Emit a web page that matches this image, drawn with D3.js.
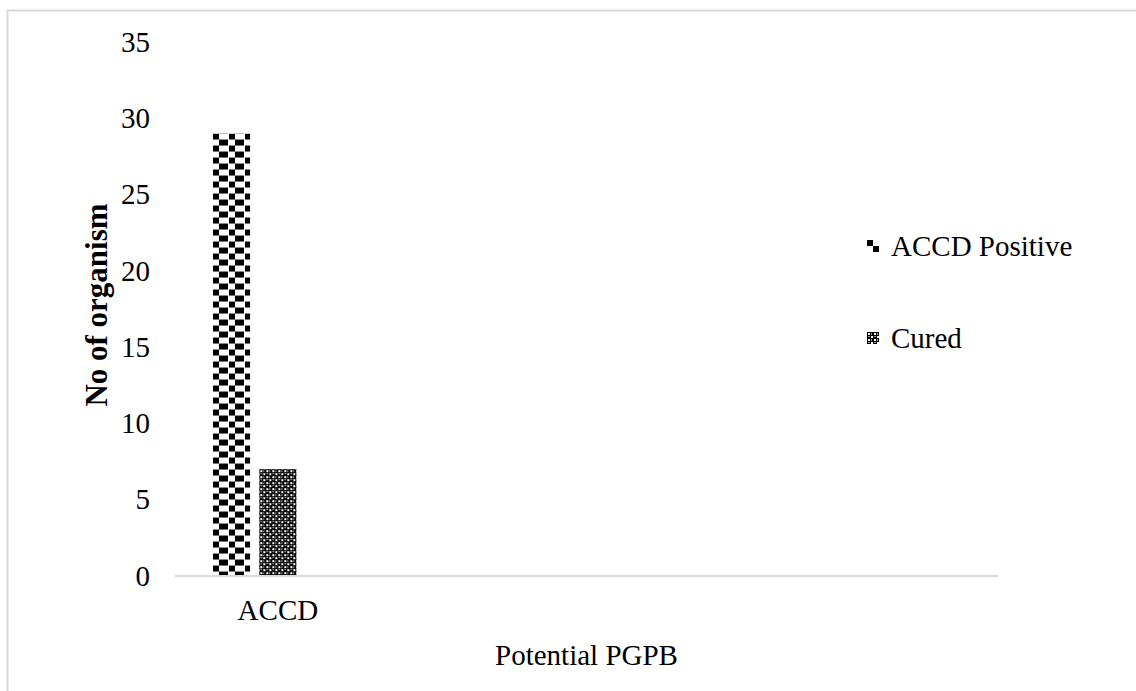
<!DOCTYPE html>
<html>
<head>
<meta charset="utf-8">
<script src="https://cdn.jsdelivr.net/npm/d3@7"></script>
<style>
  html, body { margin: 0; padding: 0; background: #fff; }
  svg { display: block; }
  text { font-family: "Liberation Serif", "Times New Roman", serif; fill: #000; }
</style>
</head>
<body>
<svg id="chart" width="1136" height="691"></svg>
<script>
// Data
const categories = ["ACCD"];
const seriesNames = ["ACCD Positive", "Cured"];
const accdPositive = [29];
const cured = [7];
const yTicks = [0, 5, 10, 15, 20, 25, 30, 35];
const xTitle = "Potential PGPB";
const yTitle = "No of organism";

const seriesValues = [accdPositive, cured];

const svg = d3.select("#chart");
const W = 1136, H = 691;
const plot = { left: 175, right: 998, top: 42, bottom: 576 };
const fontSize = 29;

// Outer chart frame
svg.append("rect")
  .attr("x", 7.5).attr("y", 10.5)
  .attr("width", W + 20).attr("height", H + 20)
  .attr("fill", "none").attr("stroke", "#d9d9d9").attr("stroke-width", 2);

const defs = svg.append("defs");

// Pattern builders, anchored at a given origin so the tiling starts at the mark's corner
function checkerPattern(id, ox, oy) {
  const p = defs.append("pattern")
    .attr("id", id)
    .attr("patternUnits", "userSpaceOnUse")
    .attr("x", ox).attr("y", oy)
    .attr("width", 16).attr("height", 12);
  p.append("rect").attr("width", 16).attr("height", 12).attr("fill", "#fff");
  p.append("rect").attr("x", 0).attr("y", 0).attr("width", 6).attr("height", 6).attr("fill", "#000");
  p.append("rect").attr("x", 6).attr("y", 6).attr("width", 9).attr("height", 6).attr("fill", "#000");
  return `url(#${id})`;
}

function finePattern(id, ox, oy) {
  const p = defs.append("pattern")
    .attr("id", id)
    .attr("patternUnits", "userSpaceOnUse")
    .attr("x", ox).attr("y", oy)
    .attr("width", 6).attr("height", 6);
  p.append("rect").attr("width", 6).attr("height", 6).attr("fill", "#000");
  p.append("rect").attr("x", 1).attr("y", 1).attr("width", 2).attr("height", 2).attr("fill", "#fff");
  p.append("rect").attr("x", 4).attr("y", 4).attr("width", 2).attr("height", 2).attr("fill", "#fff");
  p.append("rect").attr("x", 4).attr("y", 1).attr("width", 1).attr("height", 2).attr("fill", "#9a9a9a");
  p.append("rect").attr("x", 1).attr("y", 4).attr("width", 2).attr("height", 1).attr("fill", "#9a9a9a");
  return `url(#${id})`;
}

const patternMakers = [checkerPattern, finePattern];

// Scales
const plotWidth = plot.right - plot.left;
const categorySlots = 4;
const x0 = d3.scaleBand()
  .domain(categories)
  .range([plot.left, plot.left + plotWidth / categorySlots]);

const groupInset = 38;
const x1 = d3.scaleBand()
  .domain(d3.range(seriesNames.length + 1))
  .range([groupInset, x0.bandwidth() - groupInset])
  .paddingInner(0.2)
  .paddingOuter(0);

const y = d3.scaleLinear().domain([0, 35]).range([plot.bottom, plot.top]);

// Y axis labels
const yAxis = d3.axisLeft(y).tickValues(yTicks).tickSize(0).tickPadding(0);
const gy = svg.append("g").attr("transform", `translate(150,0)`).call(yAxis);
gy.select(".domain").remove();
gy.selectAll("text")
  .attr("font-size", fontSize)
  .attr("fill", "#000");

// Bars
categories.forEach((cat, ci) => {
  seriesNames.forEach((name, si) => {
    const v = seriesValues[si][ci];
    const bx = x0(cat) + x1(si);
    const by = y(v);
    const fill = patternMakers[si](`bar-${ci}-${si}`, bx, by);
    svg.append("rect")
      .attr("x", bx)
      .attr("y", by)
      .attr("width", x1.bandwidth())
      .attr("height", y(0) - by)
      .attr("fill", fill);
  });
});

// X axis category labels and baseline
const xAxis = d3.axisBottom(x0).tickSize(0).tickPadding(0);
const gx = svg.append("g").attr("transform", `translate(0,${plot.bottom})`).call(xAxis);
gx.select(".domain").remove();
gx.selectAll("text")
  .attr("font-size", fontSize)
  .attr("fill", "#000")
  .attr("dy", null)
  .attr("y", 44);

svg.append("line")
  .attr("x1", plot.left).attr("x2", plot.right)
  .attr("y1", plot.bottom).attr("y2", plot.bottom)
  .attr("stroke", "#d9d9d9").attr("stroke-width", 2);

// Axis titles
svg.append("text")
  .attr("x", (plot.left + plot.right) / 2)
  .attr("y", 665)
  .attr("text-anchor", "middle")
  .attr("font-size", fontSize)
  .text(xTitle);

svg.append("text")
  .attr("transform", `translate(107,305) rotate(-90)`)
  .attr("text-anchor", "middle")
  .attr("font-size", 31)
  .attr("font-weight", "bold")
  .text(yTitle);

// Legend
const legendX = 867;
const legendY = [246, 338];
seriesNames.forEach((name, i) => {
  const mx = legendX, my = legendY[i] - 6;
  const fill = patternMakers[i](`legend-${i}`, mx, my);
  svg.append("rect")
    .attr("x", mx).attr("y", my)
    .attr("width", 12).attr("height", 12)
    .attr("fill", fill);
  svg.append("text")
    .attr("x", legendX + 24).attr("y", legendY[i])
    .attr("dy", "0.35em")
    .attr("font-size", fontSize)
    .text(name);
});
</script>
</body>
</html>
